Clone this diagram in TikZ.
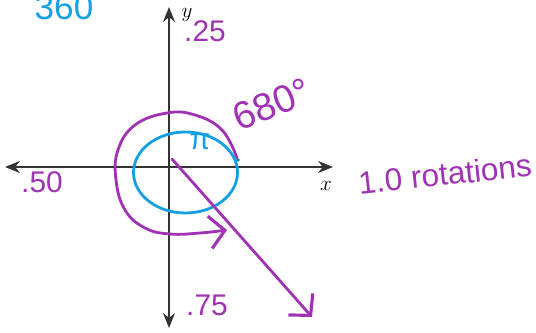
\documentclass[tikz,border=0pt]{standalone}
\usepackage{fontspec}
\setmainfont{Liberation Sans}
\usetikzlibrary{arrows.meta}
\definecolor{penblue}{RGB}{20,160,225}
\definecolor{penpurple}{RGB}{160,50,180}

\begin{document}
\begin{tikzpicture}[
    x=0.02cm, y=-0.02cm,
    axis/.style={thick, black!80, {Stealth[length=3mm,width=2.4mm]}-{Stealth[length=3mm,width=2.4mm]}},
    bluepen/.style={penblue, line width=1.6pt},
    purplepen/.style={penpurple, line width=1.6pt, line cap=round},
    barb/.style={-{Straight Barb[length=3mm,width=6.5mm,line width=1.8pt]}},
    bluetext/.style={text=penblue, font=\fontsize{20}{24}\selectfont},
    purpletext/.style={text=penpurple, font=\fontsize{17}{20}\selectfont}
]
    \useasboundingbox (0,0) rectangle (536,333);

    \coordinate (xl) at (5,167);
    \coordinate (xr) at (333,167);
    \coordinate (yt) at (169,7);
    \coordinate (yb) at (169,328);
    \coordinate (start) at (172,159);
    \coordinate (tip) at (312,317);

    \draw [axis] (xl) -- (xr);
    \draw [axis] (yb) -- (yt);
    \node (xlabel) [font=\large] at (326,186) {$x$};
    \node (ylabel) [font=\large] at (187,15) {$y$};

    \node (q1) [purpletext] at (205,31) {.25};
    \node (q2) [purpletext] at (42,182) {.50};
    \node (q3) [purpletext] at (207,305) {.75};
    \node (full) [bluetext] at (64,7) {360};
    \node (deg) [purpletext, font=\fontsize{22}{26}\selectfont, rotate=22] at (272,104) {680°};
    \node (rot) [purpletext, font=\fontsize{18}{22}\selectfont, rotate=6] at (445,174) {1.0 rotations};
    \node (pi) [bluetext, font=\fontsize{17}{20}\selectfont] at (200,142) {π};

    \draw [bluepen] (185.5,172.5) ellipse [x radius=52, y radius=40.5];
    \fill [penblue!70!black] (238,160) circle [radius=1.8];
    \draw [purplepen, barb] plot [smooth, tension=0.7] coordinates {(237,158) (222,130) (195,115) (167,113) (135,125) (118,150) (116,180) (125,210) (145,228) (170,234) (200,233) (227,230)};
    \draw [purplepen, barb] (start) -- (tip);
\end{tikzpicture}
\end{document}
